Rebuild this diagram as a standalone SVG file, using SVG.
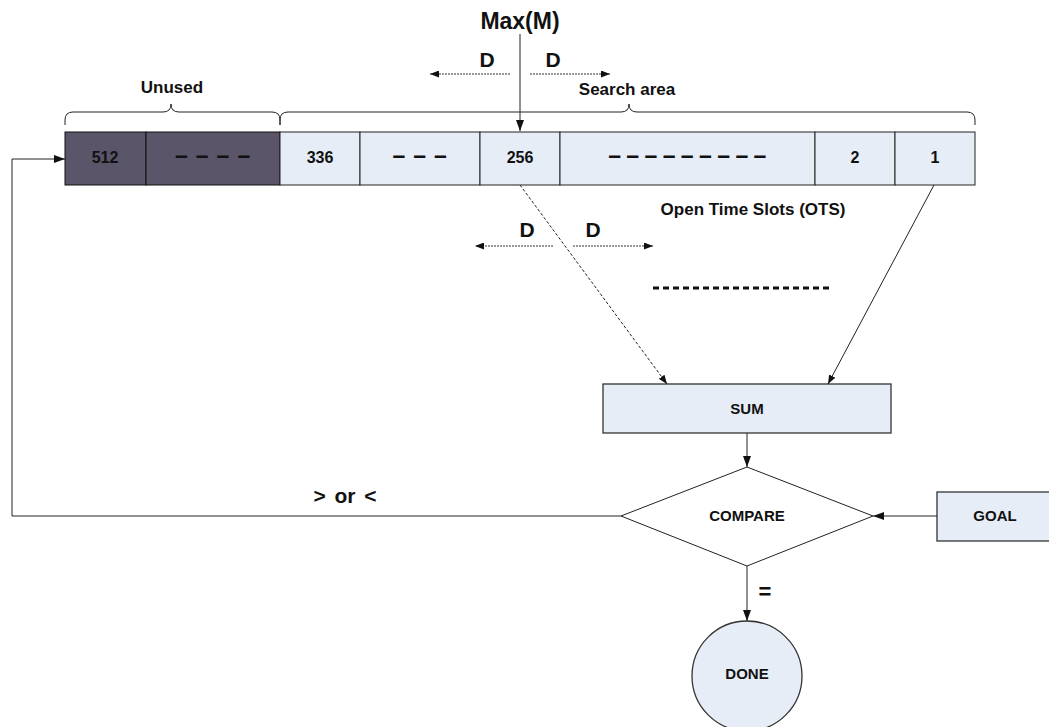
<svg xmlns="http://www.w3.org/2000/svg" width="1049" height="727" viewBox="0 0 1049 727">
  <style>
    text { font-family: "Liberation Sans", Arial, sans-serif; font-weight: bold; fill: #111; text-anchor: middle; }
    .cell-dark { fill: #5A5569; stroke: #111; stroke-width: 1; }
    .cell-light { fill: #E7EDF7; stroke: #222; stroke-width: 1; }
    .box { fill: #E7EDF7; stroke: #333; stroke-width: 1.3; }
    .diamond { fill: #fff; stroke: #222; stroke-width: 1; }
    .wire { fill: none; stroke: #222; stroke-width: 1; }
    .dash { fill: none; stroke: #333; stroke-width: 1; stroke-dasharray: 2 1; }
    .brace { fill: none; stroke: #222; stroke-width: 1; }
    .cellnum { font-size: 16px; }
    .dashes { font-size: 23px; }
    .small { font-size: 15px; }
    .label { font-size: 17px; }
    .big { font-size: 21px; }
  </style>
  <defs>
    <marker id="arrow" markerUnits="userSpaceOnUse" markerWidth="11" markerHeight="8" refX="11" refY="4" orient="auto">
      <path d="M0,0 L11,4 L0,8 z" fill="#111"/>
    </marker>
    <marker id="arrow-sm" markerUnits="userSpaceOnUse" markerWidth="9" markerHeight="7" refX="9" refY="3.5" orient="auto">
      <path d="M0,0 L9,3.5 L0,7 z" fill="#111"/>
    </marker>
  </defs>

  <!-- slot row -->
  <g id="slots">
    <rect class="cell-dark" x="65" y="132" width="81" height="53"/>
    <rect class="cell-dark" x="146" y="132" width="134" height="53"/>
    <rect class="cell-light" x="280" y="132" width="80" height="53"/>
    <rect class="cell-light" x="360" y="132" width="120" height="53"/>
    <rect class="cell-light" x="480" y="132" width="80" height="53"/>
    <rect class="cell-light" x="560" y="132" width="255" height="53"/>
    <rect class="cell-light" x="815" y="132" width="80" height="53"/>
    <rect class="cell-light" x="895" y="132" width="80" height="53"/>
    <text class="cellnum" x="105" y="163">512</text>
    <text class="dashes" x="213" y="163" letter-spacing="0.8">– – – –</text>
    <text class="cellnum" x="320" y="163">336</text>
    <text class="dashes" x="420" y="163" letter-spacing="0.8">– – –</text>
    <text class="cellnum" x="520" y="163">256</text>
    <text class="dashes" x="687" y="163" letter-spacing="-0.5">– – – – – – – – –</text>
    <text class="cellnum" x="855" y="163">2</text>
    <text class="cellnum" x="935" y="163">1</text>
  </g>

  <!-- braces and region labels -->
  <g id="unused">
    <path class="brace" d="M65,125 V120 Q65,112 73,112 H163 Q171,112 171,104 Q171,112 179,112 H272 Q280,112 280,120 V125"/>
    <text class="label" x="172" y="93">Unused</text>
  </g>
  <g id="search-area">
    <path class="brace" d="M280,125 V120 Q280,112 288,112 H621 Q629,112 629,104 Q629,112 637,112 H967 Q975,112 975,120 V125"/>
    <text class="label" x="627" y="95">Search area</text>
  </g>
  <g id="max-m">
    <text x="520" y="29" font-size="23">Max(M)</text>
  </g>
  <g id="ots-label">
    <text class="label" x="753" y="215">Open Time Slots (OTS)</text>
  </g>
  <g id="d-top">
    <text class="big" x="487" y="67">D</text>
    <text class="big" x="553" y="67">D</text>
  </g>
  <g id="d-bottom">
    <text class="big" x="527" y="237">D</text>
    <text class="big" x="593" y="237">D</text>
  </g>
  <g id="continuation">
    <line x1="653" y1="288" x2="832" y2="288" stroke="#111" stroke-width="3" stroke-dasharray="6 4"/>
  </g>

  <!-- processing nodes -->
  <g id="sum">
    <rect class="box" x="603" y="384" width="288" height="49"/>
    <text class="small" x="747" y="414">SUM</text>
  </g>
  <g id="compare">
    <polygon class="diamond" points="747,467 873,516 747,566 621,516"/>
    <text class="small" x="747" y="521">COMPARE</text>
  </g>
  <g id="goal">
    <rect class="box" x="937" y="492" width="125" height="49"/>
    <text class="small" x="995" y="521">GOAL</text>
  </g>
  <g id="done">
    <circle class="box" cx="747" cy="676" r="55"/>
    <text class="small" x="747" y="679">DONE</text>
  </g>
  <g id="edge-labels">
    <text class="big" x="345" y="503" word-spacing="3">&gt; or &lt;</text>
    <text x="765" y="599" font-size="22">=</text>
  </g>

  <!-- connectors -->
  <g id="connectors">
    <line class="wire" x1="520" y1="34" x2="520" y2="131" marker-end="url(#arrow)"/>
    <line class="dash" x1="510" y1="74" x2="430" y2="74" marker-end="url(#arrow-sm)"/>
    <line class="dash" x1="530" y1="74" x2="610" y2="74" marker-end="url(#arrow-sm)"/>
    <line class="dash" x1="553" y1="246" x2="475" y2="246" marker-end="url(#arrow-sm)"/>
    <line class="dash" x1="573" y1="246" x2="653" y2="246" marker-end="url(#arrow-sm)"/>
    <line x1="520" y1="185" x2="667" y2="384" fill="none" stroke="#222" stroke-width="1" stroke-dasharray="3 2" marker-end="url(#arrow-sm)"/>
    <line class="wire" x1="934" y1="185" x2="828" y2="384" marker-end="url(#arrow-sm)"/>
    <line class="wire" x1="747" y1="433" x2="747" y2="467" marker-end="url(#arrow)"/>
    <line class="wire" x1="937" y1="516" x2="873" y2="516" marker-end="url(#arrow)"/>
    <line class="wire" x1="747" y1="566" x2="747" y2="621" marker-end="url(#arrow)"/>
    <polyline class="wire" points="621,516 12,516 12,159 65,159" marker-end="url(#arrow)"/>
  </g>
</svg>
